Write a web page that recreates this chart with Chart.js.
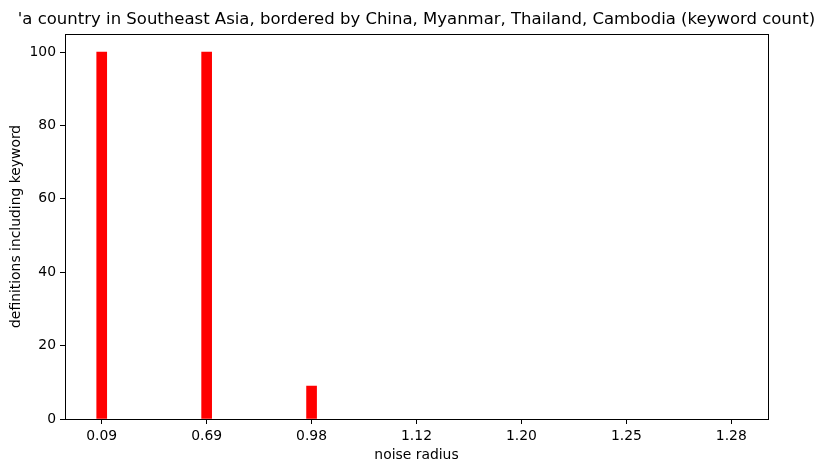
<!DOCTYPE html>
<html>
<head>
<meta charset="utf-8">
<script src="https://cdn.jsdelivr.net/npm/chart.js@4/dist/chart.umd.min.js"></script>
<style>
  html, body { margin: 0; padding: 0; background: #fff; }
  #wrap { width: 825px; height: 474px; }
</style>
</head>
<body>
<div id="wrap"><canvas id="myBarChart"></canvas></div>
<script>
// Datos
const categories = ["0.09", "0.69", "0.98", "1.12", "1.20", "1.25", "1.28"];
const counts = [100, 100, 9, 0, 0, 0, 0];
const yTicks = [0, 20, 40, 60, 80, 100];

Chart.defaults.font.family = '"DejaVu Sans", sans-serif';
Chart.defaults.color = '#000';

// Marco completo alrededor del área del gráfico
const frame = {
    id: 'frame',
    afterDraw(chart) {
        const a = chart.chartArea, c = chart.ctx;
        c.save();
        c.strokeStyle = '#000';
        c.lineWidth = 1;
        c.strokeRect(Math.round(a.left) + 0.5, Math.round(a.top) + 0.5,
            Math.round(a.right - a.left), Math.round(a.bottom - a.top));
        c.restore();
    }
};

const ctx = document.getElementById('myBarChart').getContext('2d');
const chart = new Chart(ctx, {
    type: 'bar',
    data: {
        datasets: [{
            // las barras de valor 0 no se dibujan
            data: counts.map((v, i) => ({ x: i, y: v || null })),
            backgroundColor: '#ff0000',
            barThickness: 10
        }]
    },
    options: {
        responsive: true,
        maintainAspectRatio: false,
        animation: false,
        layout: { padding: { left: 8, right: 0, top: 0, bottom: 0 } },
        scales: {
            x: {
                type: 'linear',
                offset: false,
                min: -0.35,
                max: categories.length - 1 + 0.35,
                afterBuildTicks: s => { s.ticks = categories.map((c, i) => ({ value: i })); },
                afterFit: s => { s.height = 55; },
                grid: { display: true, offset: false, drawOnChartArea: false, drawTicks: true, tickLength: 5, color: '#000' },
                border: { display: false },
                ticks: {
                    font: { size: 13.9 },
                    padding: 4,
                    maxRotation: 0,
                    callback: (v) => categories[v]
                },
                title: { display: true, text: 'noise radius', font: { size: 13.9 }, padding: { top: 0, bottom: 10 } }
            },
            y: {
                min: 0,
                max: 105,
                afterBuildTicks: s => { s.ticks = yTicks.map(v => ({ value: v })); },
                afterFit: s => { s.width = 57; },
                grid: { display: true, drawOnChartArea: false, drawTicks: true, tickLength: 5, color: '#000' },
                border: { display: false },
                ticks: { font: { size: 13.9 }, padding: 4 },
                title: { display: true, text: 'definitions including keyword', font: { size: 13.9 }, padding: { top: 0, bottom: 4 } }
            },
            // margen derecho vacío
            yRight: {
                position: 'right',
                display: true,
                afterFit: s => { s.width = 57; },
                grid: { display: false },
                border: { display: false },
                ticks: { display: false }
            }
        },
        plugins: {
            legend: { display: false },
            tooltip: { enabled: false },
            title: {
                display: true,
                text: "'a country in Southeast Asia, bordered by China, Myanmar, Thailand, Cambodia (keyword count)",
                color: '#000',
                font: { size: 16.5, weight: 'normal' },
                padding: { top: 10, bottom: 4 }
            }
        }
    },
    plugins: [frame]
});
</script>
</body>
</html>
